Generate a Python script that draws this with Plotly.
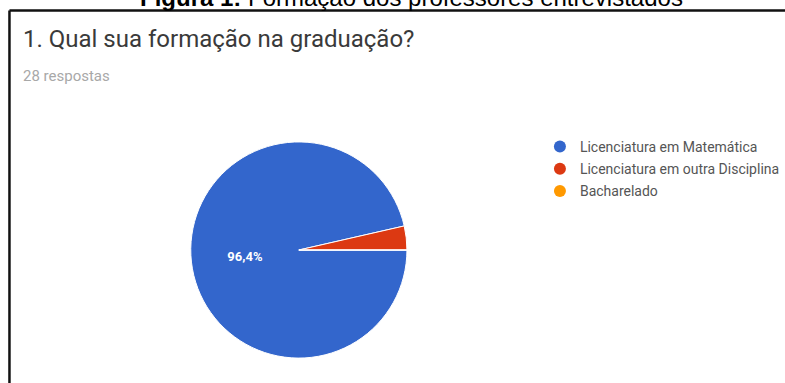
import plotly.graph_objects as go

# Survey answers: "1. Qual sua formação na graduação?"
categories = ["Licenciatura em Matemática", "Licenciatura em outra Disciplina", "Bacharelado"]
counts = [27, 1, 0]
colors = ["#3366cc", "#dc3912", "#ff9900"]

W, H = 785, 383
total = sum(counts)


def px(x):
    return x / W


def py(y):
    return 1 - y / H


# Percent labels in Portuguese notation; tiny slices stay unlabelled
pct_labels = []
for v in counts:
    p = v / total * 100
    pct_labels.append(f"<b>{p:.1f}%</b>".replace(".", ",") if p >= 5 else "")

fig = go.Figure()

fig.add_trace(go.Pie(
    labels=categories,
    values=counts,
    text=pct_labels,
    textinfo="text",
    textposition="inside",
    insidetextorientation="horizontal",
    textfont=dict(family="Roboto", size=13, color="white"),
    marker=dict(colors=colors, line=dict(color="white", width=1)),
    sort=False,
    direction="clockwise",
    rotation=90,
    showlegend=False,
    hoverinfo="label+percent",
    domain=dict(x=[px(191.5), px(408.5)], y=[py(363), py(137)]),
))

# Legend entries with round markers
for cat, col in zip(categories, colors):
    fig.add_trace(go.Scatter(
        x=[None], y=[None], mode="markers", name=cat, legendgroup=cat,
        marker=dict(color=col, size=12, symbol="circle"),
    ))

annotations = [
    dict(text="<b>Figura 1:</b> Formação dos professores entrevistados",
         x=px(688), y=py(-2), xanchor="right", yanchor="middle",
         font=dict(family="Liberation Sans, Arial", size=24, color="#000000")),
    dict(text="1. Qual sua formação na graduação?",
         x=px(21), y=py(39), xanchor="left", yanchor="middle",
         font=dict(family="Roboto", size=24, color="#3a3a3a")),
    dict(text=f"{total} respostas",
         x=px(21), y=py(75.5), xanchor="left", yanchor="middle",
         font=dict(family="Roboto", size=15, color="#a8a8a8")),
]
for a in annotations:
    a.update(xref="paper", yref="paper", showarrow=False)

shapes = [
    dict(type="line", xref="paper", yref="paper",
         x0=px(9.5), x1=1.01, y0=py(10.5), y1=py(10.5),
         line=dict(color="#111111", width=2.5)),
    dict(type="line", xref="paper", yref="paper",
         x0=px(9.5), x1=px(9.5), y0=py(10.5), y1=-0.01,
         line=dict(color="#111111", width=2.5)),
]

fig.update_layout(
    width=W, height=H,
    margin=dict(l=0, r=0, t=0, b=0),
    paper_bgcolor="white", plot_bgcolor="white",
    xaxis=dict(visible=False), yaxis=dict(visible=False),
    annotations=annotations,
    shapes=shapes,
    legend=dict(
        x=px(542), y=py(131), xanchor="left", yanchor="top",
        font=dict(family="Roboto", size=14, color="#555555"),
        tracegroupgap=1, bgcolor="rgba(0,0,0,0)",
    ),
)

fig.write_html("out.html")
